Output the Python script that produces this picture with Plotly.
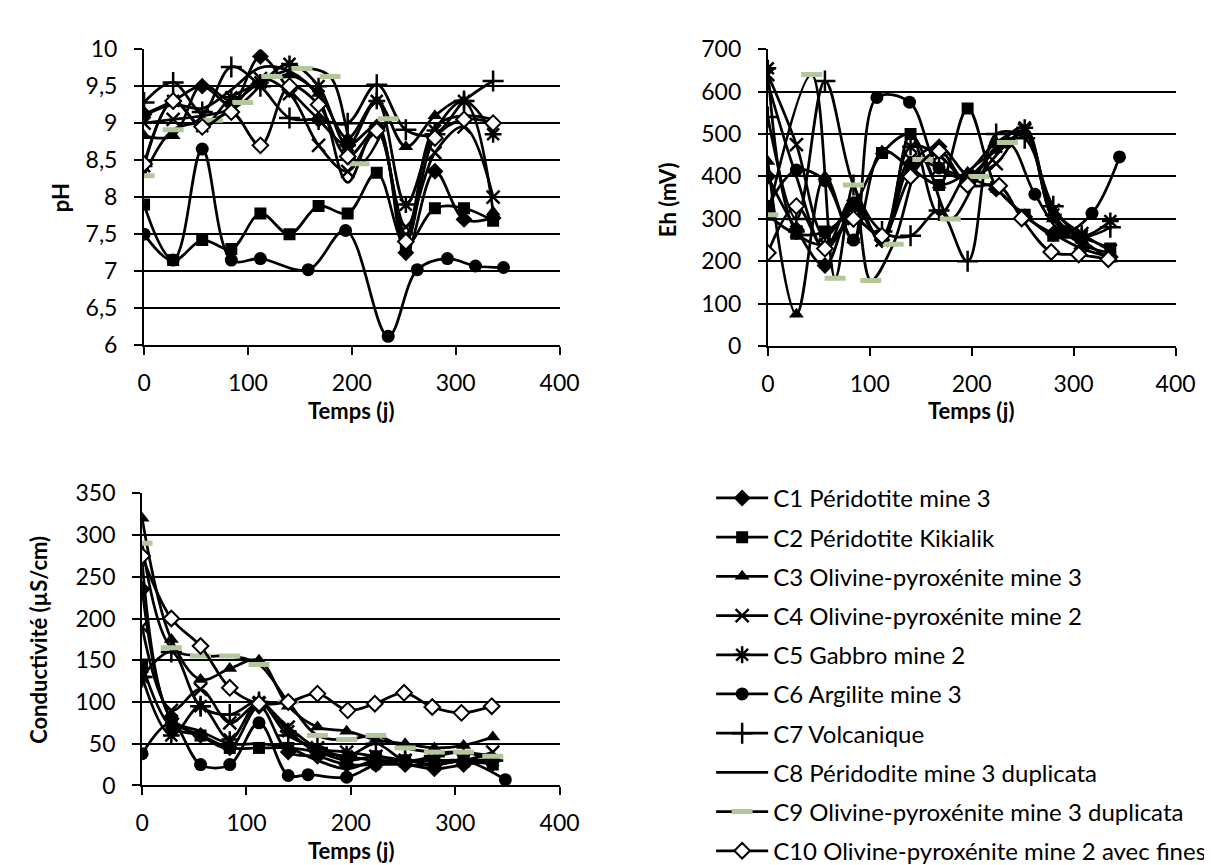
import plotly.graph_objects as go

W, H = 1212, 865

names = ["C1 Péridotite mine 3", "C2 Péridotite Kikialik", "C3 Olivine-pyroxénite mine 3",
         "C4 Olivine-pyroxénite mine 2", "C5 Gabbro mine 2", "C6 Argilite mine 3",
         "C7 Volcanique", "C8 Péridodite mine 3 duplicata",
         "C9 Olivine-pyroxénite mine 3 duplicata", "C10 Olivine-pyroxénite mine 2 avec fines"]

t_std = [0, 28, 56, 84, 112, 140, 168, 196, 224, 252, 280, 308, 336]

# ---- pH ----
ph_t = {
    "C6": [0, 28, 56, 84, 112, 158, 194, 235, 263, 292, 319, 346],
    "C9": [0, 28, 66, 95, 123, 152, 179, 207, 235],
}
ph_C1 = [9.12, 9.3, 9.5, 9.25, 9.9, 9.45, 9.05, 8.7, 8.95, 7.25, 8.35, 7.7, 7.72]
ph_C2 = [7.9, 7.15, 7.42, 7.3, 7.78, 7.5, 7.88, 7.78, 8.33, 7.35, 7.85, 7.85, 7.68]
ph_C3 = [8.83, 8.83, 9.52, 9.3, 9.55, 9.65, 9.4, 8.8, 9.3, 8.68, 9.1, 9.3, 7.8]
ph_C4 = [9.0, 9.05, 9.1, 9.2, 9.6, 9.4, 8.7, 8.35, 8.9, 7.6, 8.6, 8.95, 8.0]
ph_C5 = [8.42, 9.3, 8.96, 9.35, 9.55, 9.8, 9.5, 8.7, 9.3, 7.9, 8.9, 9.3, 8.85]
ph_C6 = [7.5, 7.15, 8.65, 7.15, 7.17, 7.02, 7.55, 6.12, 7.02, 7.17, 7.07, 7.05]
ph_C7 = [9.28, 9.55, 9.15, 9.76, 9.5, 9.07, 9.05, 9.0, 9.52, 8.91, 8.85, 9.3, 9.57]
ph_C8 = [9.1, 9.25, 9.2, 9.45, 9.75, 9.7, 9.35, 8.2, 9.0, 7.5, 8.95, 9.1, 9.05]
ph_C9 = [8.29, 8.91, 9.04, 9.28, 9.63, 9.74, 9.63, 8.45, 9.06]
ph_C10 = [8.45, 9.3, 8.95, 9.15, 8.7, 9.5, 9.25, 8.55, 8.9, 7.4, 8.8, 9.05, 9.0]

# ---- Eh (mV) ----
eh_t = {
    "C6": [0, 28, 56, 84, 107, 139, 168, 196, 235, 262, 290, 318, 345],
    "C9": [0, 43, 66, 84, 101, 123, 152, 179, 207, 235],
    "C10": [0, 28, 56, 84, 112, 140, 168, 196, 227, 249, 278, 305, 334],
}
eh_C1 = [400, 275, 190, 330, 250, 430, 470, 400, 370, 305, 265, 230, 210]
eh_C2 = [310, 265, 270, 330, 455, 500, 380, 560, 375, 310, 260, 255, 230]
eh_C3 = [435, 75, 400, 250, 460, 420, 380, 410, 480, 505, 300, 250, 205]
eh_C4 = [640, 475, 260, 330, 250, 440, 420, 400, 430, 510, 320, 265, 225]
eh_C5 = [655, 270, 240, 300, 260, 470, 450, 390, 470, 515, 310, 260, 295]
eh_C6 = [330, 415, 390, 250, 586, 575, 420, 400, 480, 358, 270, 313, 446]
eh_C7 = [540, 300, 625, 380, 270, 260, 320, 200, 500, 490, 330, 260, 280]
eh_C8 = [620, 400, 230, 350, 240, 500, 310, 410, 460, 500, 300, 240, 220]
eh_C9 = [310, 640, 160, 380, 155, 240, 440, 300, 400, 480]
eh_C10 = [220, 330, 230, 300, 260, 400, 460, 380, 378, 301, 222, 216, 205]

# ---- Conductivité (µS/cm) ----
co_t = {
    "C6": [0, 28, 56, 84, 112, 140, 159, 196, 224, 252, 280, 308, 348],
    "C10": [0, 28, 56, 84, 112, 140, 168, 197, 223, 251, 278, 306, 335],
}
co_C1 = [235, 80, 60, 45, 95, 40, 35, 25, 25, 25, 20, 25, 30]
co_C2 = [145, 70, 60, 45, 45, 45, 40, 30, 35, 30, 30, 30, 25]
co_C3 = [320, 175, 127, 140, 150, 95, 70, 65, 55, 50, 45, 48, 58]
co_C4 = [190, 90, 115, 75, 98, 70, 45, 40, 35, 30, 30, 30, 40]
co_C5 = [130, 60, 95, 55, 100, 65, 40, 35, 30, 30, 25, 30, 30]
co_C6 = [38, 75, 25, 25, 75, 12, 13, 10, 25, 30, 25, 30, 7]
co_C7 = [130, 160, 95, 85, 100, 60, 45, 35, 50, 30, 35, 40, 30]
co_C8 = [270, 80, 65, 50, 50, 45, 30, 20, 30, 25, 25, 30, 30]
co_C9 = [290, 165, 155, 155, 145, 100, 60, 55, 60, 45, 40, 40, 35]
co_C10 = [275, 200, 167, 117, 98, 100, 110, 90, 98, 111, 94, 87, 95]

ph_vals = [ph_C1, ph_C2, ph_C3, ph_C4, ph_C5, ph_C6, ph_C7, ph_C8, ph_C9, ph_C10]
eh_vals = [eh_C1, eh_C2, eh_C3, eh_C4, eh_C5, eh_C6, eh_C7, eh_C8, eh_C9, eh_C10]
co_vals = [co_C1, co_C2, co_C3, co_C4, co_C5, co_C6, co_C7, co_C8, co_C9, co_C10]

# marker styles per series
styles = [
    dict(symbol="diamond", size=13, color="black"),
    dict(symbol="square", size=12, color="black"),
    dict(symbol="triangle-up", size=13, color="black"),
    dict(symbol="x-thin-open", size=13, color="black", line=dict(width=2.5, color="black")),
    dict(symbol="asterisk-open", size=14, color="black", line=dict(width=2.5, color="black")),
    dict(symbol="circle", size=13, color="black"),
    dict(symbol="cross-thin-open", size=15, color="black", line=dict(width=2.5, color="black")),
    None,
    dict(symbol="line-ew-open", size=15, color="#b3c89a", line=dict(width=5, color="#b3c89a")),
    dict(symbol="diamond", size=12, color="white", line=dict(width=2, color="black")),
]

FONT = "Lato, 'Open Sans', sans-serif"
fig = go.Figure()

def times_for(tdict, key, n):
    if key in tdict:
        return tdict[key]
    return t_std[:n]

panels = [("x", "y", ph_vals, ph_t), ("x2", "y2", eh_vals, eh_t), ("x3", "y3", co_vals, co_t)]
for pi, (xa, ya, vals, tdict) in enumerate(panels):
    for i, (nm, v) in enumerate(zip(names, vals)):
        key = "C%d" % (i + 1)
        st = styles[i]
        kw = dict(
            x=times_for(tdict, key, len(v)), y=v, name=nm, xaxis=xa, yaxis=ya,
            line=dict(color="black", width=2.75, shape="spline", smoothing=1.0),
            legendgroup=nm, showlegend=(pi == 0),
        )
        if st is None:
            kw["mode"] = "lines"
        else:
            kw["mode"] = "lines+markers"
            kw["marker"] = st
        fig.add_trace(go.Scatter(**kw))

def px_x(p):
    return p / W

def px_y(p):
    return 1 - p / H

axis_common = dict(showline=True, linecolor="black", linewidth=2, ticks="outside",
                   ticklen=8, tickwidth=2, tickcolor="black", mirror=False,
                   tickfont=dict(family=FONT, size=23, color="black"), zeroline=False)

fig.update_layout(
    width=W, height=H, margin=dict(l=0, r=0, t=0, b=0),
    paper_bgcolor="white", plot_bgcolor="white", separators=", ",
    font=dict(family=FONT, size=22, color="black"),
    xaxis=dict(domain=[px_x(132), px_x(557)], range=[0, 400], dtick=100, anchor="y",
               showgrid=False, ticklabelstandoff=8, **axis_common),
    yaxis=dict(domain=[px_y(333), px_y(27)], range=[6, 10], dtick=0.5, anchor="x",
               showgrid=True, gridcolor="black", gridwidth=2, ticklabelstandoff=12, **axis_common),
    xaxis2=dict(domain=[px_x(770), px_x(1187)], range=[0, 400], dtick=100, anchor="y2",
                showgrid=False, ticklabelstandoff=8, **axis_common),
    yaxis2=dict(domain=[px_y(334), px_y(27)], range=[0, 700], dtick=100, anchor="x2",
                showgrid=True, gridcolor="black", gridwidth=2, ticklabelstandoff=12, **axis_common),
    xaxis3=dict(domain=[px_x(130), px_x(557)], range=[0, 400], dtick=100, anchor="y3",
                showgrid=False, ticklabelstandoff=8, **axis_common),
    yaxis3=dict(domain=[px_y(788), px_y(486)], range=[0, 350], dtick=50, anchor="x3",
                showgrid=True, gridcolor="black", gridwidth=2, ticklabelstandoff=12, **axis_common),
    legend=dict(x=px_x(712), y=px_y(468), xanchor="left", yanchor="top",
                font=dict(family=FONT, size=24, color="black"), bgcolor="rgba(0,0,0,0)",
                traceorder="grouped", tracegroupgap=5, itemwidth=52),
    showlegend=True,
)

title_font = dict(family=FONT, size=22, color="black", weight="bold")
annots = [
    ("pH", 46, 180, -90),
    ("Eh (mV)", 667, 183, -90),
    ("Conductivité (µS/cm)", 24, 637, -90),
    ("Temps (j)", 344, 400, 0),
    ("Temps (j)", 978, 400, 0),
    ("Temps (j)", 344, 855, 0),
]
for txt, ax, ay, ang in annots:
    fig.add_annotation(text=txt, x=px_x(ax), y=px_y(ay), xref="paper", yref="paper",
                       showarrow=False, textangle=ang, font=title_font,
                       xanchor="center", yanchor="middle")

fig.write_html("out.html")
